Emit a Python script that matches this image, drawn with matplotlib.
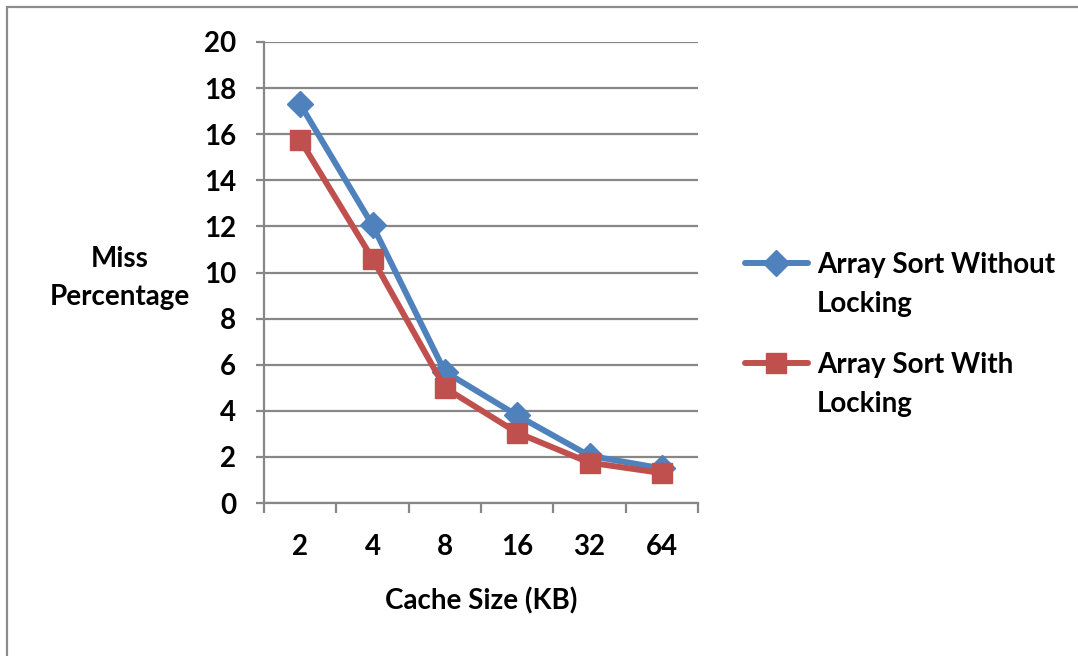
import matplotlib
matplotlib.use("Agg")
import matplotlib.pyplot as plt
from matplotlib.lines import Line2D
from matplotlib.patches import Rectangle
import numpy as np

plt.rcParams['font.family'] = ['Lato', 'DejaVu Sans']
plt.rcParams['font.weight'] = 'bold'

cache_sizes = ['2', '4', '8', '16', '32', '64']
miss_no_lock = [17.3, 12.05, 5.7, 3.8, 2.05, 1.5]
miss_lock = [15.75, 10.6, 5.0, 3.05, 1.75, 1.3]
series_names = ['Array Sort Without\nLocking', 'Array Sort With\nLocking']

BLUE = '#4F81BD'
RED = '#C0504D'
GRID = '#878787'
FS = 20

W, H = 1078, 656
fig = plt.figure(figsize=(W / 100, H / 100), dpi=100)

# outer chart frame (only top and left edges fall inside the image)
fig.add_artist(Rectangle((7 / W, -0.1), 1.2, 1 - 7 / H + 0.1, transform=fig.transFigure,
                         fill=False, edgecolor='#8c8c8c', linewidth=1.6))

ax = fig.add_axes([264 / W, 1 - 503 / H, (698 - 264) / W, (503 - 42) / H])
x = np.arange(len(cache_sizes))

ax.plot(x, miss_no_lock, color=BLUE, linewidth=4.3, marker='D', markersize=13,
        markeredgecolor=BLUE, zorder=3)
ax.plot(x, miss_lock, color=RED, linewidth=4.3, marker='s', markersize=15,
        markeredgecolor=RED, zorder=4)

ax.set_xlim(-0.5, len(cache_sizes) - 0.5)
ax.set_ylim(0, 20)
ax.set_yticks(np.arange(0, 21, 2))
ax.set_xticks(x)
ax.set_xticklabels(cache_sizes)
ax.set_xticks(np.arange(-0.5, len(cache_sizes), 1), minor=True)
ax.grid(axis='y', color=GRID, linewidth=1.6)
ax.set_axisbelow(True)

for side in ('top', 'right'):
    ax.spines[side].set_visible(False)
for side in ('left', 'bottom'):
    ax.spines[side].set_color(GRID)
    ax.spines[side].set_linewidth(1.6)

ax.tick_params(axis='y', length=6, width=1.6, color=GRID, labelsize=FS, pad=14)
ax.tick_params(axis='x', which='major', length=0, labelsize=FS, pad=22)
ax.tick_params(axis='x', which='minor', length=7, width=1.6, color=GRID)

ax.set_xlabel('Cache Size (KB)', fontsize=FS, fontweight='bold', labelpad=20)
fig.text(120 / W, 1 - 278 / H, 'Miss\nPercentage', fontsize=FS, fontweight='bold',
         ha='center', va='center', linespacing=1.55)

# legend keys drawn by hand so the key sits on the first text line
for i, (name, col, mk, ms) in enumerate([(series_names[0], BLUE, 'D', 13),
                                         (series_names[1], RED, 's', 15)]):
    ypx = 263 + i * 100
    fig.add_artist(Line2D([745 / W, 808 / W], [1 - ypx / H] * 2, transform=fig.transFigure,
                          color=col, linewidth=4.3, solid_capstyle='round'))
    fig.add_artist(Line2D([776 / W], [1 - ypx / H], transform=fig.transFigure,
                          color=col, marker=mk, markersize=ms, markeredgecolor=col))
    fig.text(817 / W, 1 - (ypx - 11) / H, name, fontsize=FS, fontweight='bold',
             ha='left', va='top', linespacing=1.6)

fig.savefig('out.png', dpi=100)
